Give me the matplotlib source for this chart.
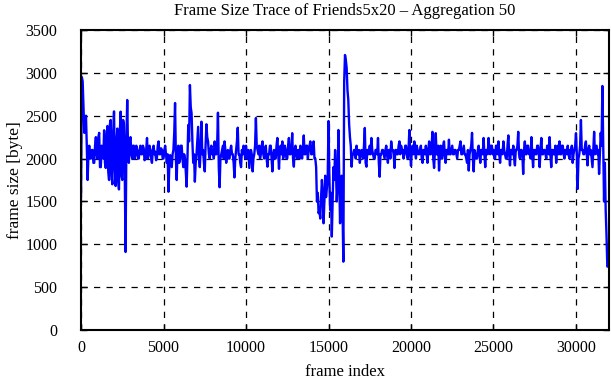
#!/usr/bin/env python3
import numpy as np
import matplotlib
matplotlib.use('Agg')
import matplotlib.pyplot as plt

# frame size trace, aggregation 50 -> one value per 50 frames
step = 50
sizes = [
    1550, 2950, 2900, 2600, 2300, 2450, 2500, 2150, 1750, 2050, 2150, 2000, 2000, 2100, 2100, 1950, 1950, 2150, 2250, 2050,
    2000, 2250, 2300, 1900, 1900, 2150, 2100, 2000, 2330, 1950, 1890, 2250, 2380, 1850, 1750, 2400, 2450, 1800, 1700, 2300,
    2550, 1900, 1680, 2200, 2350, 1750, 1640, 2300, 2547, 1800, 1750, 2450, 2400, 1850, 910, 2200, 2683, 2100, 1950, 2200,
    2250, 2050, 2000, 2150, 2150, 2000, 2050, 2150, 2100, 2000, 2000, 2100, 2150, 2050, 2050, 2150, 2120, 1980, 2000, 2100,
    2240, 2000, 2050, 2150, 2100, 2000, 1950, 2100, 2150, 2050, 2080, 1980, 2000, 2150, 2200, 2050, 2050, 2120, 2100, 2000,
    2000, 2100, 2150, 2050, 1950, 2050, 1613, 1900, 2040, 1950, 1900, 2050, 2100, 2300, 2648, 2000, 1750, 2100, 2150, 1950,
    2000, 2150, 2150, 2000, 1900, 2050, 2000, 1850, 1672, 2000, 2392, 2200, 2858, 2600, 2530, 2200, 1950, 2050, 1730, 1950,
    2050, 2200, 2370, 2000, 1900, 2100, 2430, 2050, 2100, 1950, 1850, 2150, 2400, 2250, 2200, 2050, 2000, 2100, 2150, 2050,
    2100, 2000, 2200, 2050, 2050, 2150, 2535, 1900, 1665, 2000, 2050, 2100, 2150, 2000, 2200, 2100, 1950, 2050, 2100, 2000,
    2000, 2100, 2150, 2050, 2050, 1950, 1780, 2000, 2100, 2200, 2360, 2050, 2050, 1950, 1900, 2100, 2050, 2150, 2100, 2000,
    2150, 2050, 2000, 2100, 1890, 2000, 2100, 2050, 1850, 2000, 2050, 2150, 2473, 2150, 2100, 2050, 2150, 2000, 2050, 2150,
    2200, 2050, 2000, 2100, 2150, 2000, 1905, 2050, 2050, 2150, 2150, 2000, 1850, 2050, 2100, 2000, 2000, 2150, 2240, 2050,
    1880, 2100, 2150, 2050, 2200, 2000, 2050, 2150, 2100, 2000, 2000, 2150, 2240, 2050, 2050, 2100, 2296, 2000, 1905, 2100,
    2150, 2050, 2000, 2100, 2100, 2000, 2150, 2050, 2000, 2100, 2270, 2050, 2050, 2150, 2150, 2000, 2100, 2150, 2200, 2050,
    2050, 2150, 2200, 2000, 2000, 1900, 1497, 1600, 1362, 1400, 1300, 1550, 1750, 1600, 1245, 1500, 1800, 1550, 1650, 1750,
    2438, 1800, 1400, 1600, 1090, 1500, 1900, 1750, 2100, 1900, 1500, 1700, 2333, 1800, 1245, 1600, 1800, 1400, 797, 2900,
    3208, 3150, 3057, 2800, 2683, 2400, 2250, 2150, 1905, 2050, 2050, 2100, 2100, 2000, 2150, 2050, 2050, 2100, 1950, 2050,
    2100, 2050, 2000, 2150, 2357, 1950, 1905, 2100, 2100, 2050, 2150, 2050, 2240, 2100, 2050, 2000, 2000, 2100, 2100, 2050,
    2240, 1950, 1788, 2050, 2050, 2100, 2100, 2050, 2000, 2100, 2150, 2050, 1950, 2100, 2100, 2000, 2200, 2100, 2100, 2050,
    1890, 2100, 2100, 2050, 2050, 2150, 2200, 2050, 2150, 2100, 2100, 2000, 2050, 2150, 2150, 2050, 2000, 2100, 2333, 2050,
    1915, 2100, 2150, 2050, 2200, 2100, 2000, 2150, 2100, 2050, 2050, 2100, 2150, 2000, 1950, 2100, 2100, 2050, 2150, 2050,
    1950, 2100, 2200, 2050, 2050, 2150, 2312, 2000, 1890, 2100, 2296, 2050, 2050, 2150, 1860, 2050, 2150, 2000, 2000, 2150,
    2200, 2050, 1950, 2100, 2100, 2050, 2220, 2050, 2050, 2100, 2150, 2050, 2050, 2100, 2100, 2050, 2000, 2100, 2100, 2150,
    2200, 2050, 2050, 2100, 2150, 2050, 2050, 2000, 1950, 2100, 1860, 2050, 2100, 2150, 2300, 2000, 1850, 2100, 2050, 2000,
    2000, 2100, 2150, 2050, 1950, 2100, 2100, 2050, 2240, 2050, 1900, 2100, 2100, 2050, 2240, 2100, 2050, 2150, 2150, 2050,
    2100, 2000, 2000, 2150, 2150, 2050, 2200, 2050, 1950, 2100, 2100, 2050, 2200, 2100, 2050, 2000, 2000, 2150, 2270, 2050,
    1920, 2100, 2100, 2050, 2150, 2000, 1920, 2100, 2100, 2150, 2312, 2050, 2000, 2100, 2100, 2050, 1820, 2100, 2200, 2050,
    2050, 2150, 2150, 2050, 2100, 2000, 2250, 2050, 1900, 2100, 2100, 2050, 2050, 2150, 2150, 2050, 1900, 2100, 2240, 2050,
    2050, 2100, 2100, 2050, 2000, 2150, 2150, 2050, 2250, 2050, 1900, 2100, 2100, 2050, 2050, 2150, 1950, 2100, 2150, 2050,
    2200, 2050, 2050, 2150, 2150, 2050, 2000, 2100, 2100, 2050, 2150, 2050, 2000, 2100, 2100, 2150, 1950, 2050, 2100, 2150,
    2296, 2050, 1645, 2000, 2050, 2150, 2450, 2100, 2100, 2050, 2050, 2150, 2200, 2050, 1920, 2100, 2150, 2050, 2100, 2000,
    1900, 2100, 2312, 2050, 2100, 2150, 2050, 2100, 1820, 2050, 2300, 2150, 2847, 2200, 1500, 1950, 1400, 1100, 739, 750,
]
frames = np.arange(len(sizes)) * step

plt.rcParams['font.family'] = ['Liberation Serif', 'DejaVu Serif']

fig = plt.figure(figsize=(6.11, 3.80), dpi=100)
ax = fig.add_axes([0.1326, 0.1316, 0.8641, 0.7895])

ax.plot(frames, sizes, color='#0000ff', linewidth=1.7)

ax.set_xlim(0, 32000)
ax.set_ylim(0, 3500)
ax.set_xticks(np.arange(0, 30001, 5000))
ax.set_yticks(np.arange(0, 3501, 500))
ax.grid(True, color='black', linestyle=(0, (5, 5)), linewidth=0.9)
ax.tick_params(direction='in', top=True, right=True, length=4, width=1,
               labelsize=11.5)
ax.tick_params(axis='x', pad=7)
ax.tick_params(axis='y', pad=17)
for s in ax.spines.values():
    s.set_linewidth(1.5)

ax.set_xlabel('frame index', fontsize=12, labelpad=6)
ax.set_ylabel('frame size [byte]', fontsize=12.5, labelpad=2)
ax.set_title('Frame Size Trace of Friends5x20 \u2013 Aggregation 50', fontsize=12, pad=11)

fig.savefig('out.png', dpi=100)
